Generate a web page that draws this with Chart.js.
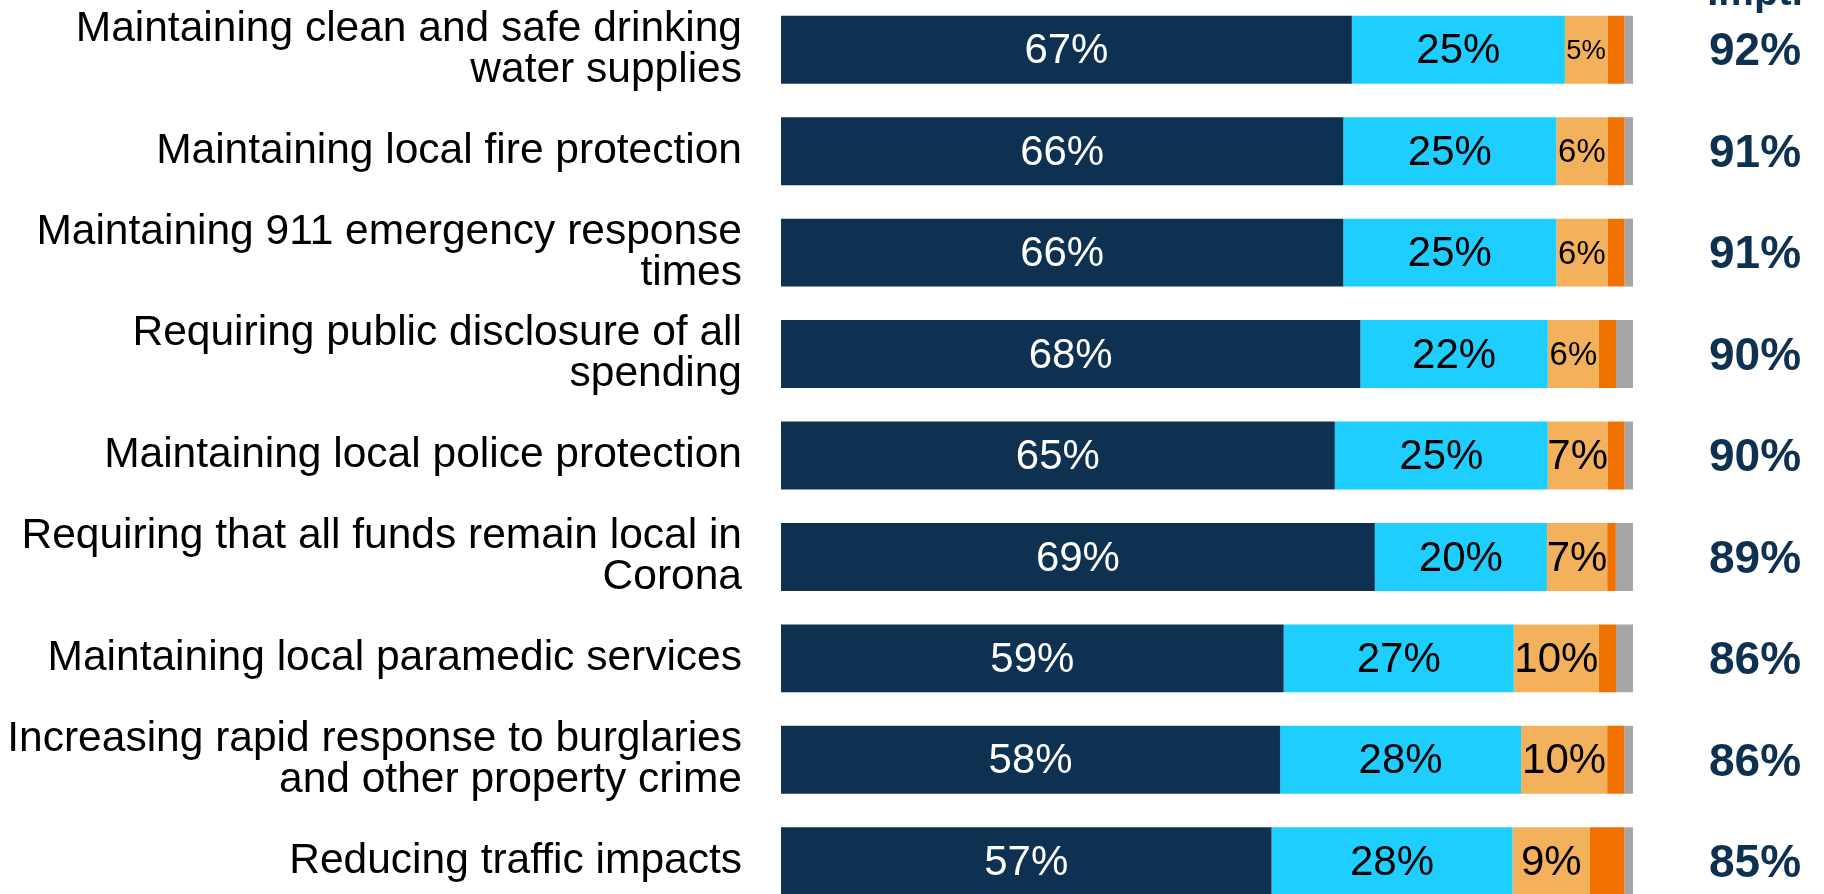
<!DOCTYPE html>
<html>
<head>
<meta charset="utf-8">
<title>Importance of services</title>
<script src="https://cdn.jsdelivr.net/npm/chart.js@4"></script>
<style>
  html, body { margin: 0; padding: 0; background: #fff; overflow: hidden; }
  #wrap { position: absolute; left: 0; top: -1px; width: 1824px; height: 913px; }
</style>
</head>
<body>
<div id="wrap"><canvas id="chart"></canvas></div>
<script>
// Row labels (multi-line ones are split the same way as the slide).
const categories = [
  ['Maintaining clean and safe drinking', 'water supplies'],
  'Maintaining local fire protection',
  ['Maintaining 911 emergency response', 'times'],
  ['Requiring public disclosure of all', 'spending'],
  'Maintaining local police protection',
  ['Requiring that all funds remain local in', 'Corona'],
  'Maintaining local paramedic services',
  ['Increasing rapid response to burglaries', 'and other property crime'],
  'Reducing traffic impacts',
];

// Survey responses, percent.
const extremelyImportant = [67, 66, 66, 68, 65, 69, 59, 58, 57];
const veryImportant      = [25, 25, 25, 22, 25, 20, 27, 28, 28];
const somewhatImportant  = [5, 6, 6, 6, 7, 7, 10, 10, 9];
const notImportant       = [2, 2, 2, 2, 2, 1, 2, 2, 4];
const dontKnow           = [1, 1, 1, 2, 1, 2, 2, 1, 1];

// "Impt." column on the right.
const totalHeader = 'Impt.';
const totalImportant = [92, 91, 91, 90, 90, 89, 86, 86, 85];

const NAVY = '#0f3151';
const FONT = '"Liberation Sans", Arial, sans-serif';

const series = [
  { label: 'Extremely Important', values: extremelyImportant, color: NAVY, text: '#ffffff' },
  { label: 'Very Important', values: veryImportant, color: '#1dceff', text: '#000000' },
  { label: 'Somewhat Important', values: somewhatImportant, color: '#f4b15c', text: '#000000' },
  { label: 'Not Important', values: notImportant, color: '#f07000', text: null },
  { label: "Don't Know/NA", values: dontKnow, color: '#a6a6a6', text: null },
];

// 100% stacked: each row is scaled by its own sum.
const rowSums = categories.map((_, i) => series.reduce((s, d) => s + d.values[i], 0));

const datasets = series.map(s => ({
  label: s.label,
  data: s.values.map((v, i) => v / rowSums[i] * 100),
  rawValues: s.values,
  labelColor: s.text,
  backgroundColor: s.color,
  borderWidth: 0,
  categoryPercentage: 1,
  barPercentage: 0.67,
}));

// Percent labels inside the segments, shrunk when a segment is too narrow.
const segmentLabels = {
  id: 'segmentLabels',
  afterDatasetsDraw(chart) {
    const ctx = chart.ctx;
    ctx.save();
    ctx.textAlign = 'center';
    ctx.textBaseline = 'middle';
    chart.data.datasets.forEach((ds, di) => {
      if (!ds.labelColor) return;
      const meta = chart.getDatasetMeta(di);
      meta.data.forEach((bar, i) => {
        const text = ds.rawValues[i] + '%';
        const w = Math.abs(bar.x - bar.base);
        let size = 42;
        ctx.font = `${size}px ${FONT}`;
        const tw = ctx.measureText(text).width;
        if (tw > w + 2) {
          size = size * (w * 0.93) / tw;
          ctx.font = `${size}px ${FONT}`;
        }
        ctx.fillStyle = ds.labelColor;
        ctx.fillText(text, (bar.x + bar.base) / 2, bar.y + 2);
      });
    });
    ctx.restore();
  }
};

// Bold totals column to the right of the bars.
const totalsColumn = {
  id: 'totalsColumn',
  afterDraw(chart, args, opts) {
    const ctx = chart.ctx;
    const yScale = chart.scales.y;
    const x = chart.chartArea.right + opts.offset;
    ctx.save();
    ctx.fillStyle = NAVY;
    ctx.textAlign = 'center';
    ctx.font = `bold 40px ${FONT}`;
    ctx.textBaseline = 'alphabetic';
    ctx.fillText(totalHeader, x, opts.headerBaseline);
    ctx.font = `bold 46px ${FONT}`;
    ctx.textBaseline = 'middle';
    totalImportant.forEach((v, i) => {
      ctx.fillText(v + '%', x, yScale.getPixelForValue(i) + 3);
    });
    ctx.restore();
  }
};

new Chart(document.getElementById('chart'), {
  type: 'bar',
  data: {
    labels: categories,
    datasets: datasets,
  },
  options: {
    indexAxis: 'y',
    responsive: true,
    maintainAspectRatio: false,
    animation: false,
    layout: { padding: { left: 0, right: 191, top: 0, bottom: 0 } },
    scales: {
      x: {
        stacked: true,
        min: 0,
        max: 100,
        display: false,
      },
      y: {
        stacked: true,
        border: { display: false },
        grid: { display: false, drawTicks: false },
        ticks: {
          color: '#000000',
          padding: 39,
          labelOffset: 0,
          font: { family: FONT, size: 42.5, lineHeight: 0.97 },
        },
        afterFit(scale) {
          // fixed label column, no extra top/bottom padding for the labels
          scale.width = 781;
          scale.paddingTop = 0;
          scale.paddingBottom = 0;
        },
      },
    },
    plugins: {
      legend: { display: false },
      tooltip: { enabled: false },
      totalsColumn: { offset: 122, headerBaseline: 6 },
    },
  },
  plugins: [segmentLabels, totalsColumn],
});
</script>
</body>
</html>
